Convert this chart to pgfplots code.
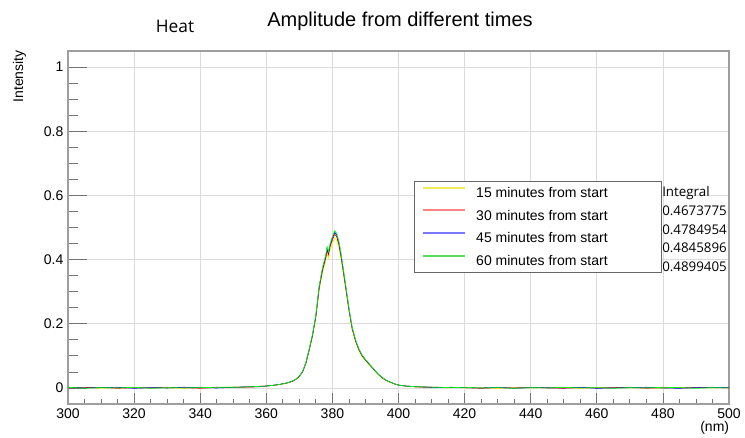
\documentclass[border=0pt]{standalone}
\usepackage{fontspec}
\setmainfont{Liberation Sans}
\newfontfamily\osans{Open Sans}
\usepackage{pgfplots}
\usepackage{pgfplotstable}
\pgfplotsset{compat=1.18}

\pgfplotstableread{
x y
300 0.001
305 0.002
310 -0.001
315 0.001
320 0.000
325 0.002
330 0.000
335 -0.001
340 0.002
345 0.001
350 0.003
353 0.002
356 0.004
358 0.005
360 0.006
362 0.008
364 0.010
366 0.014
367 0.017
368 0.021
369 0.027
370 0.035
371 0.050
372 0.076
373 0.116
374 0.160
375 0.218
376 0.303
377 0.358
377.5 0.377
378 0.396
378.4 0.420
378.8 0.405
379.3 0.429
380 0.450
380.7 0.467
381.3 0.460
382 0.434
382.6 0.401
383 0.374
384 0.307
385 0.239
385.6 0.202
386 0.179
387 0.143
388 0.116
389 0.097
390 0.085
391 0.073
392 0.062
393 0.051
394 0.040
395 0.031
396 0.025
397 0.019
398 0.015
399 0.011
400 0.009
402 0.006
405 0.003
408 0.003
412 0.001
416 0.002
420 0.000
425 0.001
430 -0.001
435 0.001
440 0.000
445 0.002
450 0.001
455 -0.001
460 0.001
465 0.002
470 0.000
475 0.001
480 -0.001
485 0.001
490 0.002
495 0.000
500 0.001
}\tabA

\pgfplotstableread{
x y
300 0.000
305 0.001
310 0.002
315 -0.001
320 0.001
325 0.000
330 0.002
335 0.001
340 -0.001
345 0.002
350 0.001
353 0.003
356 0.003
358 0.005
360 0.006
362 0.008
364 0.011
366 0.015
367 0.018
368 0.021
369 0.027
370 0.036
371 0.051
372 0.078
373 0.119
374 0.164
375 0.223
376 0.311
377 0.366
377.5 0.386
378 0.405
378.4 0.430
378.8 0.415
379.3 0.440
380 0.461
380.7 0.479
381.3 0.471
382 0.445
382.6 0.410
383 0.383
384 0.315
385 0.244
385.6 0.207
386 0.184
387 0.147
388 0.119
389 0.100
390 0.087
391 0.075
392 0.064
393 0.052
394 0.041
395 0.032
396 0.025
397 0.020
398 0.016
399 0.012
400 0.009
402 0.006
405 0.004
408 0.002
412 0.002
416 0.001
420 0.001
425 -0.001
430 0.001
435 0.000
440 0.002
445 0.000
450 -0.001
455 0.001
460 0.000
465 0.001
470 0.002
475 -0.001
480 0.001
485 0.000
490 0.001
495 0.002
500 0.000
}\tabB

\pgfplotstableread{
x y
300 0.002
305 0.000
310 0.001
315 0.002
320 -0.001
325 0.001
330 0.000
335 0.002
340 0.001
345 0.000
350 0.002
353 0.003
356 0.004
358 0.004
360 0.006
362 0.008
364 0.011
366 0.015
367 0.018
368 0.022
369 0.028
370 0.037
371 0.051
372 0.079
373 0.121
374 0.166
375 0.226
376 0.315
377 0.371
377.5 0.391
378 0.410
378.4 0.435
378.8 0.420
379.3 0.445
380 0.467
380.7 0.485
381.3 0.477
382 0.450
382.6 0.415
383 0.388
384 0.318
385 0.247
385.6 0.210
386 0.186
387 0.148
388 0.121
389 0.101
390 0.088
391 0.076
392 0.064
393 0.052
394 0.042
395 0.033
396 0.026
397 0.020
398 0.016
399 0.012
400 0.009
402 0.006
405 0.004
408 0.003
412 0.001
416 0.002
420 0.001
425 0.000
430 0.002
435 -0.001
440 0.001
445 0.001
450 0.000
455 0.002
460 -0.001
465 0.000
470 0.001
475 0.002
480 0.000
485 -0.001
490 0.001
495 0.001
500 0.002
}\tabC

\pgfplotstableread{
x y
300 0.002
305 -0.001
310 0.001
315 0.000
320 0.002
325 -0.001
330 0.001
335 0.000
340 0.001
345 0.002
350 0.002
353 0.003
356 0.004
358 0.005
360 0.006
362 0.008
364 0.011
366 0.015
367 0.018
368 0.022
369 0.028
370 0.037
371 0.052
372 0.080
373 0.122
374 0.168
375 0.228
376 0.318
377 0.375
377.5 0.395
378 0.415
378.4 0.440
378.8 0.425
379.3 0.450
380 0.472
380.7 0.490
381.3 0.482
382 0.455
382.6 0.420
383 0.392
384 0.322
385 0.250
385.6 0.212
386 0.188
387 0.150
388 0.122
389 0.102
390 0.089
391 0.077
392 0.065
393 0.053
394 0.042
395 0.033
396 0.026
397 0.020
398 0.016
399 0.012
400 0.009
402 0.006
405 0.004
408 0.003
412 0.002
416 0.001
420 0.002
425 0.000
430 0.001
435 -0.001
440 0.001
445 0.000
450 0.002
455 0.000
460 0.001
465 -0.001
470 0.001
475 0.000
480 0.002
485 0.001
490 -0.001
495 0.001
500 0.000
}\tabD

\newcommand{\lfont}{\fontsize{10.5}{12}\selectfont}
\newcommand{\lentry}[1]{\makebox[138.75pt][l]{#1}}
\definecolor{lgyellow}{RGB}{240,235,90}
\definecolor{lgred}{RGB}{255,130,130}
\definecolor{lgblue}{RGB}{120,120,255}
\definecolor{lggreen}{RGB}{90,220,90}

\begin{document}
\begin{tikzpicture}
\useasboundingbox (0pt,0pt) rectangle (558.75pt,328.5pt);
\begin{axis}[
  scale only axis,
  width=495.75pt, height=264.75pt,
  at={(51pt,25.5pt)}, anchor=south west,
  xmin=300, xmax=500, ymin=-0.05, ymax=1.05,
  xtick={300,320,...,500},
  ytick={0,0.2,0.4,0.6,0.8,1},
  yticklabels={0,0.2,0.4,0.6,0.8,1},
  minor x tick num=3, minor y tick num=3,
  tick align=inside, tick pos=left,
  grid=major,
  major grid style={black!14, line width=0.6pt},
  axis line style={black!38, line width=1.1pt},
  tick style={black!55, line width=0.6pt},
  major tick length=14.25pt, minor tick length=7.5pt,
  x tick style={/pgfplots/major tick length=7.9pt, /pgfplots/minor tick length=4.1pt},
  tick label style={font=\lfont},
  /pgf/number format/assume math mode=true,
  /pgf/number format/1000 sep={},
  legend style={at={(rel axis cs:0.5234,0.6317)}, anchor=north west,
    draw=black!60, inner xsep=0pt, inner ysep=0pt,
    row sep=0pt, column sep=0pt, font=\lfont,
    nodes={inner xsep=0pt, inner ysep=0pt, text height=12.25pt, text depth=4.75pt}},
  legend cell align=left,
  legend image code/.code={%
    \path[draw=none, fill=none] (0pt,0pt) rectangle (46.5pt,0.5pt);
    \draw[#1, line width=1.4pt] (6.75pt,3.75pt) -- (38.25pt,3.75pt);},
]
\addplot[forget plot, color=yellow, line width=0.5pt] table[x=x,y=y]{\tabA};
\addplot[forget plot, color=red, line width=0.5pt] table[x=x,y=y]{\tabB};
\addplot[forget plot, color=blue, line width=0.5pt] table[x=x,y=y]{\tabC};
\addplot[forget plot, color=green, line width=0.5pt] table[x=x,y=y]{\tabD};
\addlegendimage{color=lgyellow}
\addlegendentry{\lentry{15 minutes from start}}
\addlegendimage{color=lgred}
\addlegendentry{\lentry{30 minutes from start}}
\addlegendimage{color=lgblue}
\addlegendentry{\lentry{45 minutes from start}}
\addlegendimage{color=lggreen}
\addlegendentry{\lentry{60 minutes from start}}
\end{axis}
\node[anchor=base, font=\fontsize{15}{18}\selectfont, inner sep=0pt] at (300pt,308.5pt) {Amplitude from different times};
\node[anchor=base, font=\osans\fontsize{13}{15}\selectfont, inner sep=0pt] at (131.25pt,304.3pt) {Heat};
\node[anchor=east, rotate=90, font=\lfont, inner sep=0pt] at (14.6pt,291pt) {Intensity};
\node[anchor=east, font=\lfont, inner sep=0pt] at (547pt,7.5pt) {(nm)};
\begin{scope}[every node/.style={anchor=base west, inner sep=0pt, font=\osans\fontsize{10}{12}\selectfont}]
\node at (496.5pt,180.75pt) {Integral};
\node at (496.5pt,166.7pt) {0.4673775};
\node at (496.5pt,152.8pt) {0.4784954};
\node at (496.5pt,138.75pt) {0.4845896};
\node at (496.5pt,124.7pt) {0.4899405};
\end{scope}
\end{tikzpicture}
\end{document}
